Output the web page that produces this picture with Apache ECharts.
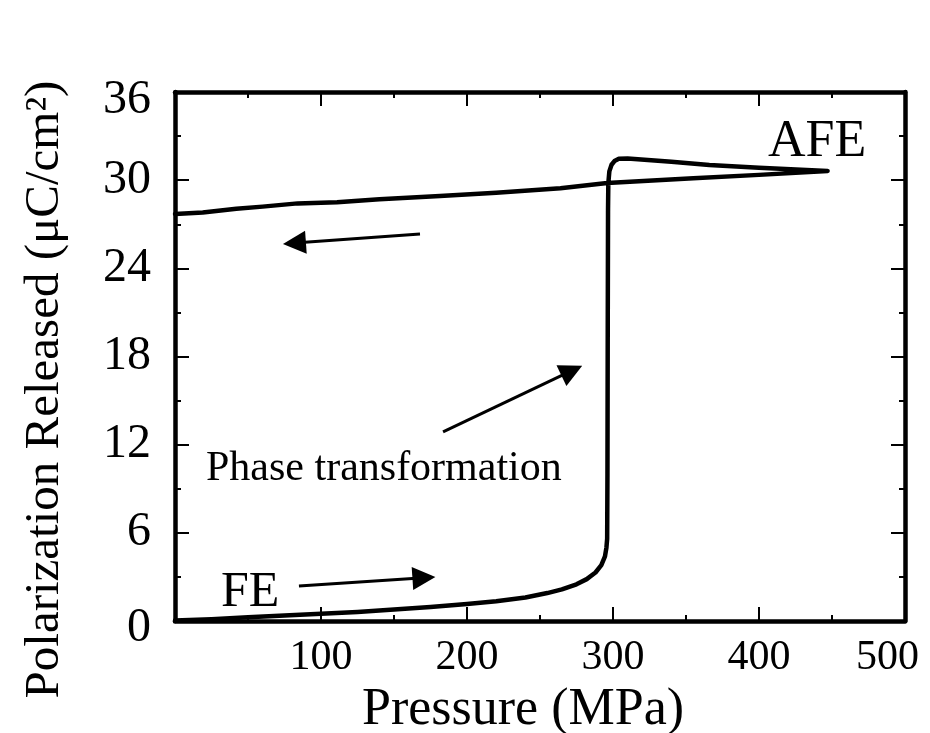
<!DOCTYPE html>
<html>
<head>
<meta charset="utf-8">
<script src="https://cdn.jsdelivr.net/npm/echarts@6/dist/echarts.min.js"></script>
<style>html,body{margin:0;padding:0;background:#fff}#c{width:930px;height:733px}</style>
</head>
<body>
<div id="c"></div>
<script>
// ---- data ----
var pressure = [0,25,50,75,100,125,150,175,200,220,240,255,265,275,282,288,292,294.5,295.5,296,296.2,296.4,296.6,296.8,297.5,299,301,304,310,317,340,366,400,447,
                400,355,296,264,220,181.5,140,111,84,60,42,19,0];
var polarization = [0.03,0.12,0.25,0.38,0.5,0.62,0.78,0.95,1.15,1.35,1.6,1.9,2.15,2.5,2.85,3.3,3.8,4.4,5.0,5.6,10,20,28,29.8,30.6,31.05,31.3,31.45,31.48,31.42,31.25,31.04,30.85,30.63,
                30.36,30.13,29.8,29.45,29.15,28.93,28.7,28.5,28.42,28.2,28.05,27.8,27.7];
var xTicks = [0,100,200,300,400,500];
var yTicks = [0,6,12,18,24,30,36];
// annotation arrows (data coordinates): [tailP, tailV, headP, headV]
var arrowUnload = [167.8,26.34,81.8,25.72];
var arrowPhase  = [183.6,12.87,271.8,17.04];
var arrowLoad   = [84.9,2.38,170.5,2.95];
var labelAFE = 'AFE', labelFE = 'FE', labelPhase = 'Phase transformation';
var xTitle = 'Pressure (MPa)', yTitle = 'Polarization Released (\u03bcC/cm\u00b2)';

var curve = pressure.map(function(p,i){return [p, polarization[i]];});
var FONT = "'Liberation Serif','Times New Roman',serif";

function arrow(a){ return {coords:[[a[0],a[1]],[a[2],a[3]]]}; }

var chart = echarts.init(document.getElementById('c'), null, {renderer:'canvas'});
var axisCommon = {
  axisLine:{show:true,onZero:false,lineStyle:{color:'#000',width:4.5}},
  axisTick:{show:true,inside:true,length:14,lineStyle:{color:'#000',width:2}},
  minorTick:{show:true,splitNumber:2,length:6,lineStyle:{color:'#000',width:2}},
  splitLine:{show:false}
};
chart.setOption({
  animation:false,
  backgroundColor:'#fff',
  grid:{left:175,right:25,top:92,bottom:112,containLabel:false,outerBoundsMode:'none'},
  xAxis:[
    Object.assign({type:'value',min:xTicks[0],max:xTicks[xTicks.length-1],interval:100,position:'bottom',
      name:xTitle,nameLocation:'middle',nameGap:53,
      nameTextStyle:{fontFamily:FONT,fontSize:52,color:'#000',padding:[0,34,0,0]},
      axisLabel:{fontFamily:FONT,fontSize:42,color:'#000',margin:16,
        formatter:function(v){ if(v===0) return ''; if(v===500) return '{e|'+v+'}'; return String(v);},
        rich:{e:{fontFamily:FONT,fontSize:42,color:'#000',padding:[0,35,0,0]}}}
    },axisCommon),
    Object.assign({type:'value',min:0,max:500,interval:100,position:'top',axisLabel:{show:false}},axisCommon)
  ],
  yAxis:[
    Object.assign({type:'value',min:yTicks[0],max:yTicks[yTicks.length-1],interval:6,position:'left',
      name:yTitle,nameLocation:'middle',nameGap:105,
      nameTextStyle:{fontFamily:FONT,fontSize:49,color:'#000',padding:[0,66,0,0]},
      axisLabel:{fontFamily:FONT,fontSize:48,color:'#000',margin:24,
        formatter:function(v){ if(v===0) return '{lo|0}'; if(v===36) return '{hi|36}'; return String(v);},
        rich:{lo:{fontFamily:FONT,fontSize:48,color:'#000',padding:[14,0,0,0]},
              hi:{fontFamily:FONT,fontSize:48,color:'#000',padding:[16,0,0,0]}}}
    },axisCommon),
    Object.assign({type:'value',min:0,max:36,interval:6,position:'right',axisLabel:{show:false}},axisCommon)
  ],
  series:[
    {type:'line',data:curve,showSymbol:false,smooth:false,
     lineStyle:{color:'#000',width:4.5,join:'round',cap:'round'},z:3},
    {type:'lines',coordinateSystem:'cartesian2d',xAxisIndex:0,yAxisIndex:0,
     symbol:['none','triangle'],symbolSize:[20,23],
     lineStyle:{color:'#000',width:3,opacity:1},
     itemStyle:{color:'#000'},
     data:[arrow(arrowUnload),arrow(arrowPhase),arrow(arrowLoad)],z:4}
  ],
  graphic:[
    {type:'text',left:768,top:116,style:{text:labelAFE,fontFamily:FONT,fontSize:52,fill:'#000'}},
    {type:'text',left:221,top:568,style:{text:labelFE,fontFamily:FONT,fontSize:50,fill:'#000'}},
    {type:'text',left:206,top:448,style:{text:labelPhase,fontFamily:FONT,fontSize:42,fill:'#000'}}
  ]
});
</script>
</body>
</html>
